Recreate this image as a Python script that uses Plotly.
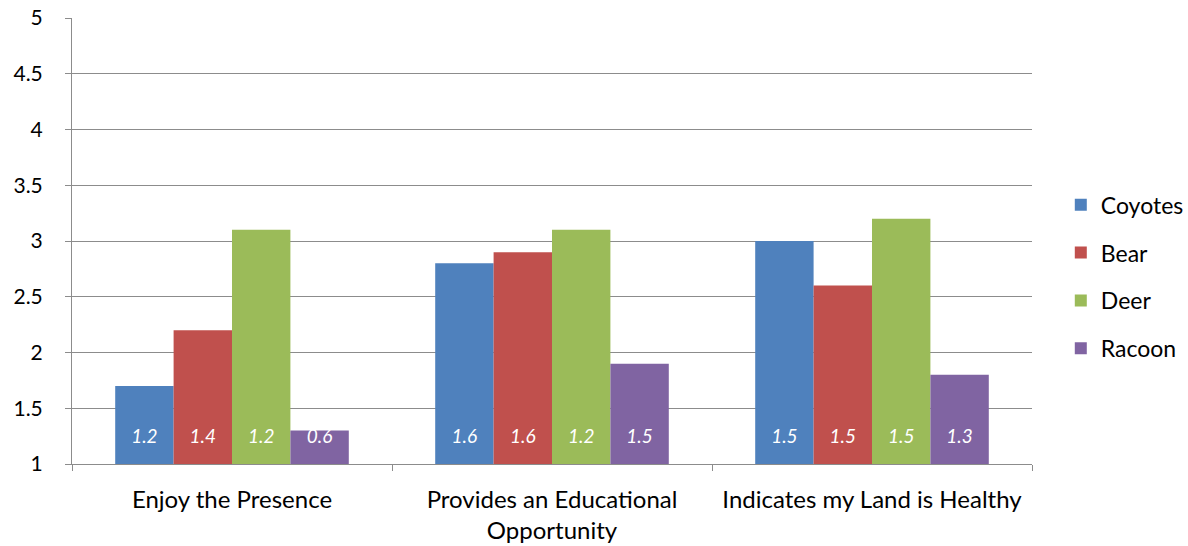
import plotly.graph_objects as go

categories = ["Enjoy the Presence", "Provides an Educational<br>Opportunity", "Indicates my Land is Healthy"]
series = ["Coyotes", "Bear", "Deer", "Racoon"]
means = {
    "Coyotes": [1.7, 2.8, 3.0],
    "Bear": [2.2, 2.9, 2.6],
    "Deer": [3.1, 3.1, 3.2],
    "Racoon": [1.3, 1.9, 1.8],
}
spread = {
    "Coyotes": [1.2, 1.6, 1.5],
    "Bear": [1.4, 1.6, 1.5],
    "Deer": [1.2, 1.2, 1.5],
    "Racoon": [0.6, 1.5, 1.3],
}
colors = {"Coyotes": "#4F81BD", "Bear": "#C0504D", "Deer": "#9BBB59", "Racoon": "#8064A2"}
y_ticks = [1, 1.5, 2, 2.5, 3, 3.5, 4, 4.5, 5]
y_tick_text = ["1", "1.5", "2", "2.5", "3", "3.5", "4", "4.5", "5"]

FONT = "Lato"
fig = go.Figure()
for s in series:
    fig.add_trace(go.Bar(
        x=categories, y=means[s], name=s, marker_color=colors[s],
        marker_line_width=0, offsetgroup=s, legendgroup=s,
    ))
for s in series:
    fig.add_trace(go.Scatter(
        x=categories, y=[1.23] * len(categories), mode="text",
        text=[f"{v:.1f}" for v in spread[s]], offsetgroup=s,
        textfont=dict(color="white", size=19, family=FONT, style="italic"),
        showlegend=False, hoverinfo="skip", cliponaxis=False,
    ))

fig.update_layout(
    width=1188, height=546,
    margin=dict(l=72, r=156, t=18, b=82, autoexpand=False),
    plot_bgcolor="white", paper_bgcolor="white",
    barmode="group", scattermode="group", bargap=0.27, bargroupgap=0,
    font=dict(family=FONT, size=22, color="black"),
    legend=dict(x=1.03, y=0.42, xanchor="left", yanchor="middle",
                font=dict(size=23), tracegroupgap=15, itemwidth=30),
    showlegend=True,
)
fig.update_xaxes(
    showline=True, linecolor="#8c8c8c", linewidth=1,
    ticks="outside", tickson="boundaries", ticklen=6, tickcolor="#8c8c8c",
    showgrid=False, tickfont=dict(size=24), ticklabelstandoff=14,
    automargin=False,
)
fig.update_yaxes(
    range=[1, 5], tickvals=y_ticks, ticktext=y_tick_text,
    showline=True, linecolor="#8c8c8c", linewidth=1,
    ticks="outside", ticklen=6, tickcolor="#8c8c8c",
    showgrid=True, gridcolor="#8c8c8c", gridwidth=1,
    tickfont=dict(size=21), zeroline=False, ticklabelstandoff=18,
    automargin=False,
)
fig.write_html("out.html")
